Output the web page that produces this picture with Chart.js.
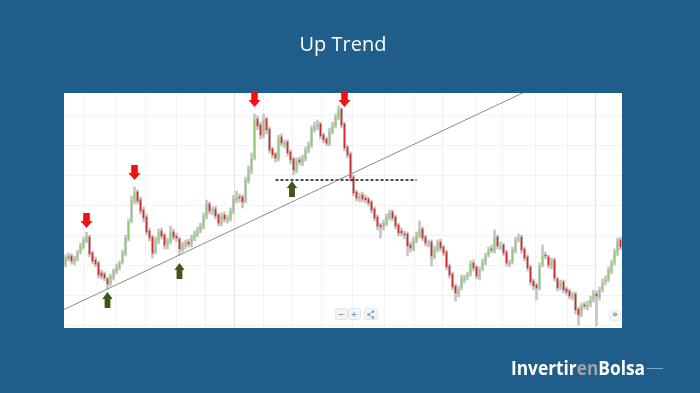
<!DOCTYPE html>
<html>
<head>
<meta charset="utf-8">
<script src="https://cdn.jsdelivr.net/npm/chart.js@4.4.1/dist/chart.umd.min.js"></script>
<style>
  html, body { margin: 0; padding: 0; background: #1f5e8a; }
  #c { display: block; }
</style>
</head>
<body>
<canvas id="c" width="700" height="393"></canvas>
<script>
// ---- data (price units) ----
const opens = [136,143,144,138,141,148,153,159,163,147,
  140,137,127,126,121,117,123,128,132,138,
  146,161,179,199,208,200,190,183,169,163,
  148,159,169,165,154,158,168,164,161,150,
  154,158,155,161,165,169,173,183,196,188,
  191,185,176,185,180,181,188,200,203,203,
  199,219,229,242,281,275,264,281,271,251,
  246,241,263,255,258,248,241,229,240,237,
  241,249,254,270,273,276,265,261,256,268,
  274,282,291,276,253,246,223,208,201,205,
  202,201,198,191,183,175,172,176,182,188,
  183,175,169,166,166,155,151,159,164,171,
  163,156,158,143,150,158,153,148,134,126,
  114,106,112,120,123,126,137,133,123,131,
  137,145,151,149,163,153,155,148,136,138,
  149,161,163,151,143,133,119,115,112,135,
  145,143,134,140,121,113,118,111,109,103,
  106,91,86,95,93,96,101,106,103,111,
  118,121,129,138,147,160];
const closes = [142,142,139,142,147,154,160,164,146,139,
  136,125,124,122,116,124,129,133,137,147,
  162,178,200,207,199,189,182,168,162,147,
  160,168,164,155,159,167,163,162,151,155,
  157,156,162,166,170,174,184,195,189,190,
  184,177,184,181,182,189,201,202,202,198,
  220,230,241,280,274,265,280,270,250,245,
  242,262,257,257,247,240,230,239,238,242,
  250,255,271,274,275,264,260,257,269,275,
  283,290,275,252,245,222,207,202,204,201,
  200,197,190,182,174,173,177,183,187,182,
  174,167,167,165,154,152,160,165,170,162,
  157,157,144,151,157,152,147,133,125,113,
  107,111,122,122,125,136,132,124,130,138,
  144,150,150,162,154,154,147,137,137,150,
  160,162,150,142,132,118,114,112,134,144,
  144,135,139,122,112,117,110,108,104,105,
  90,85,94,94,95,100,107,104,110,117,
  120,130,137,148,159,153];
const highs = [145,147,146,144,150,157,163,168,165,149,
  143,139,130,128,123,126,131,136,139,150,
  165,181,204,213,210,203,193,186,172,165,
  163,171,172,167,162,174,171,167,163,158,
  160,161,165,169,173,177,187,200,198,193,
  194,187,187,188,185,192,205,209,206,205,
  223,234,247,286,284,278,286,283,273,253,
  248,265,266,260,260,250,243,242,243,245,
  253,258,274,278,280,278,267,263,272,278,
  286,294,292,278,255,248,225,210,207,208,
  205,203,200,193,185,177,180,186,190,190,
  185,177,172,169,168,158,163,168,179,173,
  165,160,160,154,160,161,155,150,136,128,
  116,114,125,125,128,139,140,135,133,141,
  147,153,155,170,165,158,157,150,140,153,
  163,166,165,153,145,135,121,117,137,155,
  148,145,142,142,123,120,120,113,111,108,
  108,93,97,98,99,104,110,109,113,121,
  124,133,140,151,162,163];
const lows = [133,139,136,135,139,146,151,157,143,136,
  133,122,121,119,111,114,120,126,130,136,
  144,159,177,196,196,186,178,165,159,142,
  146,156,161,151,151,156,160,158,145,148,
  151,153,153,159,163,167,171,181,186,185,
  181,174,174,178,177,179,186,197,198,192,
  197,217,226,240,270,261,262,266,247,242,
  238,239,254,252,244,236,225,227,235,234,
  239,247,252,268,270,261,257,254,254,266,
  272,280,272,249,242,219,204,199,198,198,
  197,194,187,179,170,162,170,174,180,179,
  171,164,164,161,144,148,149,157,162,159,
  154,153,134,141,148,149,144,130,122,110,
  99,103,110,117,120,124,129,121,120,129,
  135,143,147,147,151,150,144,134,133,136,
  147,158,147,139,129,115,110,100,110,133,
  141,132,131,119,109,110,107,105,101,100,
  86,75,83,91,90,93,98,74,100,108,
  115,118,126,135,144,150];

// trend line through two swing lows (candle indices)
const trendAnchors = [14, 38];
// horizontal support level (price) and the candle range it spans
const supportLevel = 220;
const supportRange = [70, 117];
// arrows: candle index and tip price
const redArrowIdx = [7, 23, 63, 93];
const redArrowTip = [172, 220, 293, 293];
const greenArrowIdx = [14, 38, 75.5];
const greenArrowTip = [108, 137, 219];
// grid positions
const xGridTicks = [6, 16.7, 26.7, 36.9, 46.5, 56.4, 66.1, 75.5, 85.2, 95.5, 106.2, 116.2, 125.8, 136.8, 145.8, 156.8, 167.2, 176.5];
const xMajorTicks = [56.4, 176.5];
const yGridTicks = [75, 105, 135, 165, 195, 225, 255, 285];
const priceMin = 72, priceMax = 307;

const N = closes.length;
const idx = closes.map((_, i) => i);

const wickData = idx.map(i => ({ x: i, y: [lows[i], highs[i]] }));
const bodyData = idx.map(i => ({ x: i, y: [opens[i], closes[i]] }));
const bodyColors = idx.map(i => closes[i] >= opens[i] ? '#93cc78' : '#d42a2a');

const a0 = trendAnchors[0], a1 = trendAnchors[1];
const slope = (lows[a1] - lows[a0]) / (a1 - a0);
const trendData = [-0.5, N - 0.5].map(xv => ({ x: xv, y: lows[a0] + slope * (xv - a0) }));
const supportData = supportRange.map(xv => ({ x: xv, y: supportLevel }));

const BLUE = '#1f5e8a';

const bgPlugin = {
  id: 'bg',
  beforeDraw(chart) {
    const { ctx, chartArea: a } = chart;
    ctx.save();
    ctx.fillStyle = BLUE;
    ctx.fillRect(0, 0, chart.width, chart.height);
    ctx.fillStyle = '#ffffff';
    ctx.fillRect(a.left, a.top, a.right - a.left, a.bottom - a.top);
    ctx.restore();
  }
};

const arrowPlugin = {
  id: 'arrows',
  afterDatasetsDraw(chart) {
    const { ctx, scales: { x, y } } = chart;
    const draw = (i, price, down, color, hw, sw, hh, len) => {
      const cx = x.getPixelForValue(i);
      const ty = y.getPixelForValue(price);
      const s = down ? -1 : 1;
      ctx.save();
      ctx.fillStyle = color;
      ctx.beginPath();
      ctx.moveTo(cx, ty);
      ctx.lineTo(cx + hw, ty + s * hh);
      ctx.lineTo(cx + sw, ty + s * hh);
      ctx.lineTo(cx + sw, ty + s * len);
      ctx.lineTo(cx - sw, ty + s * len);
      ctx.lineTo(cx - sw, ty + s * hh);
      ctx.lineTo(cx - hw, ty + s * hh);
      ctx.closePath();
      ctx.fill();
      ctx.restore();
    };
    redArrowIdx.forEach((i, k) => draw(i, redArrowTip[k], true, '#f51010', 6, 3.3, 7, 15));
    greenArrowIdx.forEach((i, k) => draw(i, greenArrowTip[k], false, '#3d5816', 5.2, 2.9, 7, 16));
  }
};

const decoPlugin = {
  id: 'deco',
  afterDraw(chart) {
    const { ctx, chartArea: a } = chart;
    ctx.save();
    // zoom buttons
    const by = a.bottom - 20;
    const btn = (bx, w) => {
      ctx.fillStyle = '#f5f5f5';
      ctx.strokeStyle = '#e6e6e6';
      ctx.lineWidth = 1;
      ctx.beginPath();
      ctx.roundRect(bx + 0.5, by + 0.5, w, 11, 2);
      ctx.fill();
      ctx.stroke();
    };
    btn(335, 12); btn(348, 12); btn(364, 13);
    ctx.fillStyle = '#6a9fd4';
    ctx.strokeStyle = '#6a9fd4';
    ctx.fillRect(338.5, by + 6, 5, 1);
    ctx.fillRect(351.5, by + 6, 5, 1);
    ctx.fillRect(353.5, by + 4, 1, 5);
    // share icon
    ctx.beginPath();
    ctx.arc(368.5, by + 6.5, 1.3, 0, Math.PI * 2);
    ctx.arc(373, by + 3.5, 1.3, 0, Math.PI * 2);
    ctx.fill();
    ctx.beginPath();
    ctx.arc(373, by + 9.5, 1.3, 0, Math.PI * 2);
    ctx.fill();
    ctx.lineWidth = 0.8;
    ctx.beginPath();
    ctx.moveTo(368.5, by + 6.5); ctx.lineTo(373, by + 3.5);
    ctx.moveTo(368.5, by + 6.5); ctx.lineTo(373, by + 9.5);
    ctx.stroke();
    // » button
    ctx.fillStyle = '#f5f5f5';
    ctx.strokeStyle = '#e6e6e6';
    ctx.beginPath();
    ctx.roundRect(609.5, by + 2.5, 11, 10, 2);
    ctx.fill(); ctx.stroke();
    ctx.fillStyle = '#777';
    ctx.font = 'bold 9px "DejaVu Sans"';
    ctx.textAlign = 'center';
    ctx.textBaseline = 'middle';
    ctx.fillText('»', 615, by + 7);

    // logo
    ctx.font = 'bold 19.5px "Open Sans"';
    ctx.textAlign = 'left';
    ctx.textBaseline = 'alphabetic';
    const parts = [['Invertir', '#ffffff'], ['en', '#a3a3a3'], ['Bolsa', '#ffffff']];
    const total = parts.reduce((s, p) => s + ctx.measureText(p[0]).width, 0);
    const sx = 134 / total;
    ctx.translate(511, 375);
    ctx.scale(sx, 1);
    let cx = 0;
    parts.forEach(p => {
      ctx.fillStyle = p[1];
      ctx.fillText(p[0], cx, 0);
      cx += ctx.measureText(p[0]).width;
    });
    ctx.setTransform(1, 0, 0, 1, 0, 0);
    ctx.strokeStyle = 'rgba(255,255,255,0.45)';
    ctx.lineWidth = 1;
    ctx.beginPath();
    ctx.moveTo(647, 368.5); ctx.lineTo(663, 368.5);
    ctx.stroke();
    ctx.restore();
  }
};

new Chart(document.getElementById('c'), {
  type: 'bar',
  data: {
    datasets: [
      { type: 'line', data: trendData, borderColor: '#8c8c8c', borderWidth: 1, pointRadius: 0, order: 0 },
      { type: 'line', data: supportData, borderColor: '#111111', borderWidth: 1.3, borderDash: [3, 2], pointRadius: 0, order: 0 },
      { data: bodyData, backgroundColor: bodyColors, barThickness: 1, grouped: false, order: 1 },
      { data: wickData, backgroundColor: '#c6c6c6', barThickness: 2, grouped: false, order: 2 }
    ]
  },
  options: {
    responsive: false,
    animation: false,
    devicePixelRatio: 1,
    layout: { padding: { left: 64, right: 78, top: 0, bottom: 65 } },
    plugins: {
      legend: { display: false },
      tooltip: { enabled: false },
      title: {
        display: true,
        text: 'Up Trend',
        color: '#ffffff',
        font: { family: '"Open Sans"', size: 20, weight: 'normal' },
        padding: { top: 33, bottom: 36 }
      }
    },
    scales: {
      x: {
        type: 'linear', min: -0.5, max: N - 0.5, offset: false,
        ticks: { display: false },
        grid: { offset: false, drawTicks: false, color: c => xMajorTicks.includes(c.tick && c.tick.value) ? '#e2e2e2' : '#f2f2f2' },
        border: { display: false },
        afterBuildTicks: s => { s.ticks = xGridTicks.map(v => ({ value: v })); }
      },
      y: {
        min: priceMin, max: priceMax,
        ticks: { display: false },
        grid: { drawTicks: false, color: '#f2f2f2' },
        border: { display: false },
        afterBuildTicks: s => { s.ticks = yGridTicks.map(v => ({ value: v })); }
      }
    }
  },
  plugins: [bgPlugin, arrowPlugin, decoPlugin]
});
</script>
</body>
</html>
